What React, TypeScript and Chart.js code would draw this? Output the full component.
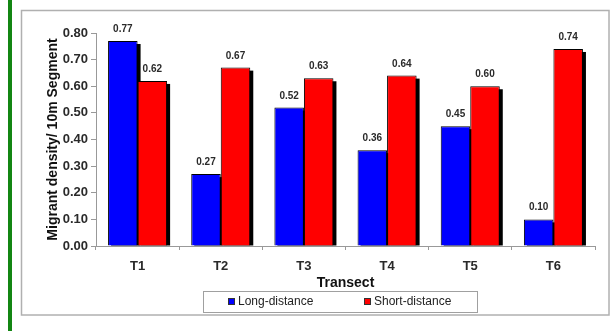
import React, { useEffect, useRef } from "react";
import { Chart, registerables } from "chart.js";

Chart.register(...registerables);

const categories = ["T1", "T2", "T3", "T4", "T5", "T6"];
const longDistance = [0.77, 0.27, 0.52, 0.36, 0.45, 0.1];
const shortDistance = [0.62, 0.67, 0.63, 0.64, 0.6, 0.74];
const seriesNames = ["Long-distance", "Short-distance"];
const seriesColors = ["#0000FF", "#FF0000"];
const yTitle = "Migrant density/ 10m Segment";
const xTitle = "Transect";

const FONT = "'Liberation Sans', Arial, sans-serif";

const decorPlugin = {
  id: "decor",
  beforeDraw(chart: any) {
    const ctx = chart.ctx;
    ctx.save();
    ctx.fillStyle = "#ffffff";
    ctx.fillRect(0, 0, chart.width, chart.height);
    ctx.fillStyle = "#138613";
    ctx.fillRect(8, 0, 4, chart.height);
    ctx.strokeStyle = "#b0b0b0";
    ctx.lineWidth = 1.5;
    ctx.strokeRect(21.5, 10.5, 587.5, 304.5);
    ctx.restore();
  },
  beforeDatasetsDraw(chart: any) {
    const ctx = chart.ctx;
    ctx.save();
    ctx.fillStyle = "#000000";
    chart.data.datasets.forEach((_: any, di: number) => {
      const meta = chart.getDatasetMeta(di);
      meta.data.forEach((bar: any) => {
        const w = bar.width;
        const left = bar.x - w / 2 + 3;
        const top = bar.y + 3;
        const h = bar.base - top;
        if (h > 0) ctx.fillRect(left, top, w, h);
      });
    });
    ctx.restore();
  },
  afterDatasetsDraw(chart: any) {
    const ctx = chart.ctx;
    ctx.save();
    ctx.fillStyle = "#2a2a2a";
    ctx.font = "bold 10px " + FONT;
    ctx.textAlign = "center";
    ctx.textBaseline = "alphabetic";
    chart.data.datasets.forEach((ds: any, di: number) => {
      const meta = chart.getDatasetMeta(di);
      meta.data.forEach((bar: any, i: number) => {
        ctx.fillText(Number(ds.data[i]).toFixed(2), bar.x, bar.y - 9);
      });
    });
    ctx.restore();
  },
  afterDraw(chart: any) {
    const ctx = chart.ctx;
    ctx.save();
    ctx.strokeStyle = "#a0a0a0";
    ctx.lineWidth = 1;
    ctx.strokeRect(203.5, 291.5, 274, 21);
    ctx.font = "12px " + FONT;
    ctx.textBaseline = "middle";
    ctx.textAlign = "left";
    const items = [
      { x: 228, label: seriesNames[0], color: seriesColors[0] },
      { x: 364, label: seriesNames[1], color: seriesColors[1] },
    ];
    items.forEach((it) => {
      ctx.fillStyle = it.color;
      ctx.fillRect(it.x, 298, 7, 7);
      ctx.strokeStyle = "#333";
      ctx.strokeRect(it.x + 0.5, 298.5, 6, 6);
      ctx.fillStyle = "#222222";
      ctx.fillText(it.label, it.x + 10, 302);
    });
    ctx.restore();
  },
};

export default function App() {
  const ref = useRef<HTMLCanvasElement | null>(null);
  useEffect(() => {
    if (!ref.current) return;
    const chart = new Chart(ref.current, {
      type: "bar",
      data: {
        labels: categories,
        datasets: [
          {
            label: seriesNames[0],
            data: longDistance,
            backgroundColor: seriesColors[0],
            borderColor: "#000000",
            borderWidth: 1,
            categoryPercentage: 0.71,
            barPercentage: 1,
          },
          {
            label: seriesNames[1],
            data: shortDistance,
            backgroundColor: seriesColors[1],
            borderColor: "#000000",
            borderWidth: 1,
            categoryPercentage: 0.71,
            barPercentage: 1,
          },
        ],
      },
      options: {
        responsive: false,
        animation: false,
        devicePixelRatio: 1,
        layout: { padding: { top: 33, right: 16, left: 0, bottom: 0 } },
        plugins: {
          legend: { display: false },
          tooltip: { enabled: false },
        },
        scales: {
          x: {
            grid: {
              drawOnChartArea: false,
              tickLength: 4,
              color: "#999999",
              offset: true,
            },
            border: { color: "#999999", width: 1 },
            ticks: {
              color: "#2a2a2a",
              font: { family: FONT, size: 13, weight: "bold" },
              padding: 9,
              maxRotation: 0,
            },
            title: {
              display: true,
              text: xTitle,
              color: "#111111",
              font: { family: FONT, size: 14, weight: "bold" },
              padding: { top: 0, bottom: 39 },
            },
            afterFit(scale: any) {
              scale.height = 85;
            },
          },
          y: {
            min: 0,
            max: 0.8,
            grid: {
              drawOnChartArea: false,
              tickLength: 5,
              color: "#999999",
            },
            border: { color: "#999999", width: 1 },
            ticks: {
              stepSize: 0.1,
              color: "#2a2a2a",
              font: { family: FONT, size: 13, weight: "bold" },
              padding: 3,
              callback: (v: any) => Number(v).toFixed(2),
            },
            title: {
              display: true,
              text: yTitle,
              color: "#111111",
              font: { family: FONT, size: 14, weight: "bold" },
              padding: { top: 45, bottom: 0 },
            },
            afterFit(scale: any) {
              scale.width = 96;
            },
          },
        },
      },
      plugins: [decorPlugin],
    } as any);
    return () => chart.destroy();
  }, []);
  return (
    <div style={{ position: "absolute", left: 0, top: 0, width: 611, height: 331 }}>
      <canvas ref={ref} width={611} height={331} style={{ display: "block" }} />
    </div>
  );
}
